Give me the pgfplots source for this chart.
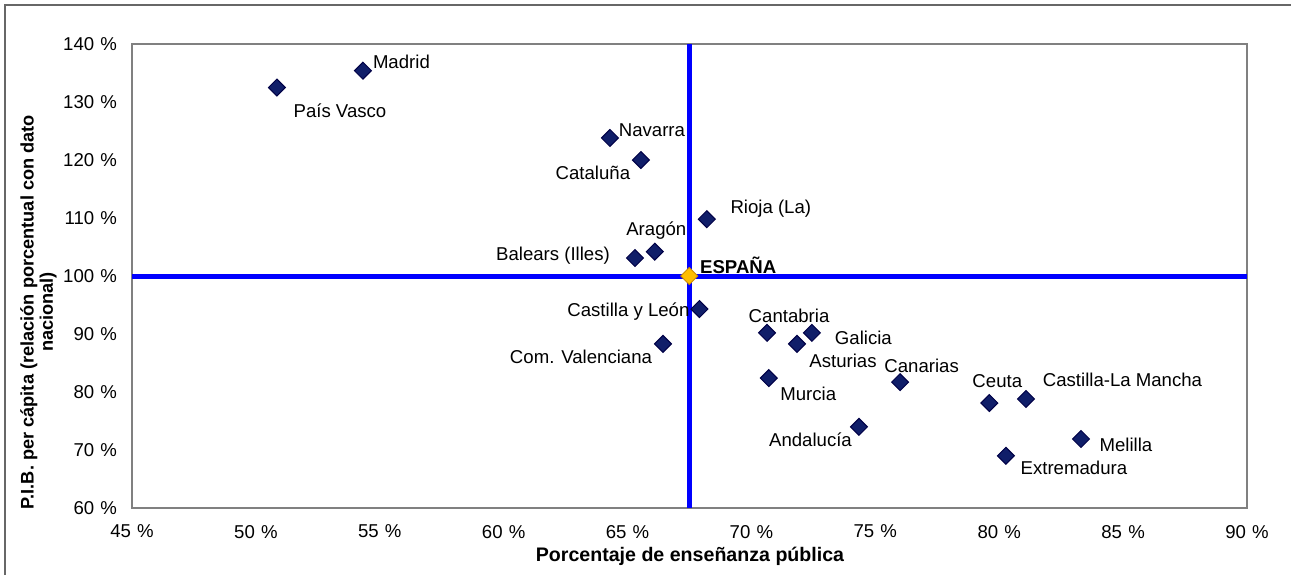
\documentclass[border=0pt]{standalone}
\usepackage{fontspec}
\setmainfont{Liberation Sans}
\usepackage{pgfplots}
\usepackage{pgfplotstable}
\pgfplotsset{compat=1.18}

\definecolor{navymark}{RGB}{16,30,105}
\definecolor{navyedge}{RGB}{0,0,70}
\definecolor{goldmark}{RGB}{255,190,0}
\definecolor{goldedge}{RGB}{205,140,0}
\definecolor{framegray}{RGB}{128,128,128}

% x = % enseñanza pública, y = PIB per cápita (% España), dx/dy = label offset in pt
\pgfplotstableread[col sep=comma]{
x,y,label,dx,dy
54.32,135.4,Madrid,19.25,4.5
50.85,132.5,País Vasco,31.5,-11.5
64.29,123.8,Navarra,21,4
65.54,120.0,Cataluña,-24,-6.5
68.20,109.8,Rioja (La),32,5
66.10,104.2,Aragón,0.75,10.5
65.30,103.1,Balears (Illes),-41,1
67.90,94.3,Castilla y León,-35.5,-1.5
70.63,90.2,Cantabria,11,8.5
72.44,90.2,Galicia,25.75,-2.5
71.84,88.3,Asturias,23,-8.5
66.43,88.3,Com. Valenciana,-41,-6.5
70.70,82.4,Murcia,19.75,-8
76.00,81.7,Canarias,10.75,8
79.60,78.1,Ceuta,4,11
81.08,78.8,Castilla-La Mancha,48.25,9.5
74.34,74.0,Andalucía,-24.25,-6.5
83.30,71.9,Melilla,22.5,-3
80.27,69.0,Extremadura,34,-6
}\regiones

\begin{document}
\begin{tikzpicture}[x=0.5pt,y=0.5pt,font=\fontsize{9.3}{11}\selectfont]
\useasboundingbox (0,0) rectangle (1291,575);
\draw[framegray!80!black,line width=1pt] (5,0) -- (5,570) -- (1291,570);
\begin{axis}[
    at={(66pt,33.5pt)}, anchor=south west,
    scale only axis,
    width=557.5pt, height=232pt,
    xmin=45, xmax=90, ymin=60, ymax=140,
    xtick={45,50,...,90},
    ytick={60,70,...,140},
    xticklabel={\pgfmathprintnumber[assume math mode=true]{\tick}\,\,\%},
    yticklabel={\pgfmathprintnumber[assume math mode=true]{\tick}\,\,\%},
    major tick length=0pt,
    axis line style={framegray, line width=1pt},
    xticklabel style={yshift=-5pt},
    yticklabel style={xshift=-4pt},
    clip=false,
]
% reference lines through the national value
\addplot[blue, line width=2.5pt, no marks] coordinates {(45,100) (90,100)};
\addplot[blue, line width=2.5pt, no marks] coordinates {(67.49,60) (67.49,140)};

\addplot[
    only marks,
    mark=square*,
    mark size=3pt,
    mark options={rotate=45, fill=navymark, draw=navyedge, line width=0.5pt},
    point meta=explicit symbolic,
    visualization depends on={\thisrow{dx} \as \dx},
    visualization depends on={\thisrow{dy} \as \dy},
    nodes near coords,
    nodes near coords style={anchor=center, inner sep=0pt, xshift=\dx pt, yshift=\dy pt, text=black},
] table[x=x, y=y, meta=label] {\regiones};

\addplot[
    only marks,
    mark=square*,
    mark size=3pt,
    mark options={rotate=45, fill=goldmark, draw=goldedge, line width=0.5pt},
    point meta=explicit symbolic,
    nodes near coords,
    nodes near coords style={anchor=center, inner sep=0pt, xshift=24.5pt, yshift=5.5pt, font=\fontsize{9.3}{11}\selectfont\bfseries},
] coordinates {(67.49,100) [ESPAÑA]};
\end{axis}
\node[font=\fontsize{9.8}{11}\selectfont\bfseries] at (690,19) {Porcentaje de enseñanza pública};
\node[font=\fontsize{9.1}{9.6}\selectfont\bfseries, rotate=90, align=center] at (38.5,263)
    {P.I.B. per cápita (relación porcentual con dato\\nacional)};
\end{tikzpicture}
\end{document}
